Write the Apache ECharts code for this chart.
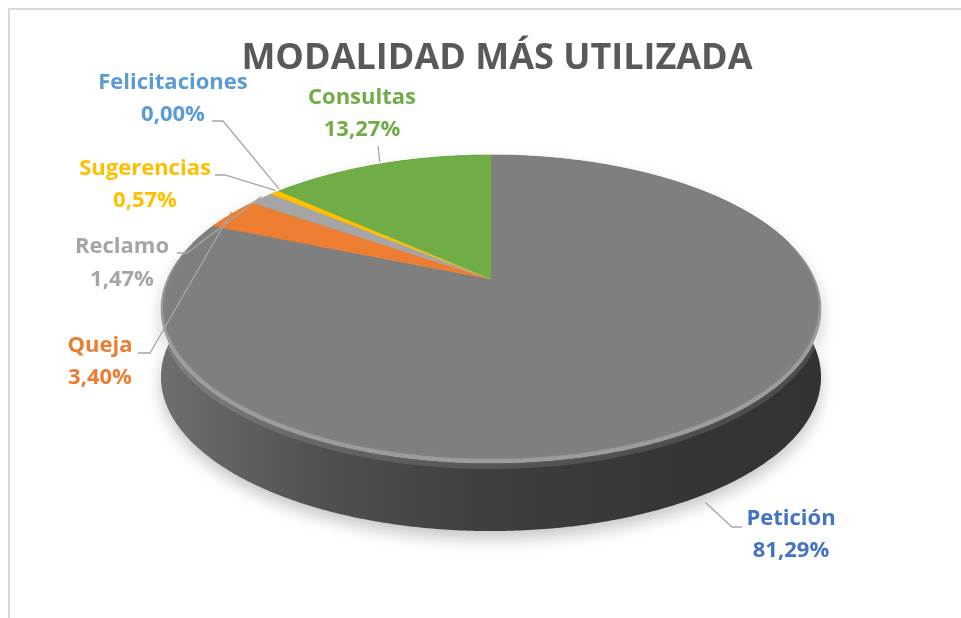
<!DOCTYPE html>
<html>
<head>
<meta charset="utf-8">
<title>Modalidad más utilizada</title>
<script src="https://cdn.jsdelivr.net/npm/echarts@6/dist/echarts.min.js"></script>
<style>
  html, body { margin: 0; padding: 0; background: #fff; }
  #grafico { width: 961px; height: 618px; }
</style>
</head>
<body>
<div id="grafico"></div>
<script>
// datos
var categorias = ['Petición', 'Queja', 'Reclamo', 'Sugerencias', 'Felicitaciones', 'Consultas'];
var porcentajes = [81.29, 3.40, 1.47, 0.57, 0.00, 13.27];

// colores de las porciones y de las etiquetas
var coloresPorcion = ['#7f7f7f', '#ed7d31', '#a5a5a5', '#ffc000', '#5b9bd5', '#70ad47'];
var coloresEtiqueta = ['#4472c4', '#ed7d31', '#a5a5a5', '#ffc000', '#5b9bd5', '#70ad47'];

// posicion de etiquetas: [x centro, y linea 1, y linea 2, inicio guia x, y, codo x]
var posEtiquetas = [
    [791, 519, 551, 742, 527, 732],
    [100, 346, 378, 138, 353, 150],
    [122, 247, 280, 177, 253, 187],
    [145, 169, 201, 215, 175, 225],
    [173, 83, 115, 212, 121, 223],
    [362, 98, 130, 378, 146, 378]
];

// geometria de la torta 3D (perspectiva simple)
var CX = 491, CY = 279, RX = 323.7, RY = 148.2, K = 0.1948, GROSOR = 68;
var FUENTE = '"Open Sans", "Noto Sans", sans-serif';

function proyectar(ang, dy) {
    var u = Math.sin(ang), v = Math.cos(ang);
    var d = 1 + K * v;
    return [CX + RX * u / d, CY - RY * v / d + (dy || 0)];
}

// oscurece un color hex mezclandolo con negro
function oscurecer(hex, f) {
    var c = echarts.color.parse(hex);
    return 'rgb(' + [0, 1, 2].map(function (j) { return Math.round(c[j] * f); }).join(',') + ')';
}

var inicios = [];
var acum = 0;
porcentajes.forEach(function (p) { inicios.push(acum); acum += p; });

var datos = porcentajes.map(function (p, i) { return [p, inicios[i]]; });

function renderItem(params, api) {
    var i = params.dataIndex;
    var valor = api.value(0), inicio = api.value(1);
    var a0 = inicio / 100 * Math.PI * 2;
    var a1 = (inicio + valor) / 100 * Math.PI * 2;
    var n = Math.max(2, Math.ceil((a1 - a0) / 0.01));
    var arriba = [], abajo = [], brillo = [], franja = [];
    for (var k = 0; k <= n; k++) {
        var ang = a0 + (a1 - a0) * k / n;
        arriba.push(proyectar(ang, 0));
        abajo.push(proyectar(ang, GROSOR));
        if (Math.cos(ang) < 0.25) {
            brillo.push(proyectar(ang, -2));
            franja.push(proyectar(ang, 3));
        }
    }
    var color = coloresPorcion[i];
    var hijos = [];
    if (valor > 0) {
        // costado
        hijos.push({
            type: 'polygon',
            z2: 1,
            shape: { points: arriba.concat(abajo.slice().reverse()) },
            style: {
                fill: new echarts.graphic.LinearGradient(CX - RX, 0, CX + RX, 0, [
                    { offset: 0, color: oscurecer(color, 0.86) },
                    { offset: 0.25, color: oscurecer(color, 0.62) },
                    { offset: 0.5, color: oscurecer(color, 0.49) },
                    { offset: 0.8, color: oscurecer(color, 0.42) },
                    { offset: 1, color: oscurecer(color, 0.4) }
                ], true),
                shadowBlur: 16,
                shadowOffsetY: 8,
                shadowColor: 'rgba(0,0,0,0.22)'
            }
        });
        // franja suave en la parte alta del costado
        if (franja.length > 1) {
            hijos.push({
                type: 'polyline',
                z2: 2,
                shape: { points: franja },
                style: { fill: null, stroke: 'rgba(255,255,255,0.12)', lineWidth: 6 }
            });
        }
        // cara superior
        hijos.push({
            type: 'polygon',
            z2: 10,
            shape: { points: [[CX, CY]].concat(arriba) },
            style: { fill: color, stroke: color, lineWidth: 0.6 }
        });
        // borde biselado
        if (brillo.length > 1) {
            hijos.push({
                type: 'polyline',
                z2: 11,
                shape: { points: brillo },
                style: {
                    fill: null, stroke: 'rgba(255,255,255,0.2)', lineWidth: 4,
                    shadowBlur: 4, shadowColor: 'rgba(255,255,255,0.35)'
                }
            });
        }
    }
    // etiqueta y linea guia
    var medio = (a0 + a1) / 2;
    var delante = Math.cos(medio) < 0;
    var ancla = proyectar(medio, delante ? GROSOR + 8 : -2);
    var pe = posEtiquetas[i];
    hijos.push({
        type: 'polyline',
        z2: 20,
        shape: { points: [[pe[3], pe[4]], [pe[5], pe[4]], ancla] },
        style: { fill: null, stroke: '#a6a6a6', lineWidth: 1.3 }
    });
    var textoPct = valor.toFixed(2).replace('.', ',') + '%';
    [[categorias[i], pe[1]], [textoPct, pe[2]]].forEach(function (t) {
        hijos.push({
            type: 'text',
            z2: 21,
            style: {
                text: t[0],
                x: pe[0],
                y: t[1],
                fill: coloresEtiqueta[i],
                font: 'bold 22px ' + FUENTE,
                align: 'center',
                verticalAlign: 'middle'
            }
        });
    });
    return { type: 'group', children: hijos };
}

var grafico = echarts.init(document.getElementById('grafico'));
var option = {
    backgroundColor: '#ffffff',
    animation: false,
    title: {
        text: 'MODALIDAD MÁS UTILIZADA',
        left: 492,
        textAlign: 'center',
        top: 36,
        textStyle: {
            fontFamily: FUENTE,
            fontSize: 36,
            fontWeight: 'bold',
            color: '#595959'
        }
    },
    graphic: [{
        type: 'polyline',
        shape: { points: [[9, 700], [9, 9], [1000, 9]] },
        style: { fill: null, stroke: '#d9d9d9', lineWidth: 2 },
        silent: true
    }],
    series: [{
        type: 'custom',
        name: 'Modalidad',
        coordinateSystem: 'none',
        renderItem: renderItem,
        data: datos
    }]
};
grafico.setOption(option);
</script>
</body>
</html>
